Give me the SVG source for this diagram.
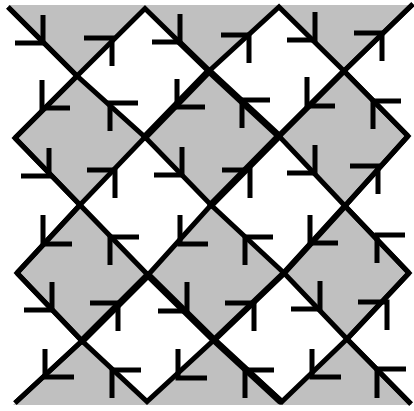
<svg xmlns="http://www.w3.org/2000/svg" width="414" height="411" viewBox="0 0 414 411">
<style>
.t{fill:#c0c0c0;stroke:none}
.ln{fill:none;stroke:#000;stroke-width:5;stroke-linejoin:miter;stroke-miterlimit:10}
.thk{fill:none;stroke:#000;stroke-width:7;stroke-linecap:round}
.med{fill:none;stroke:#000;stroke-width:6;stroke-linecap:round}
.ar{fill:none;stroke:#000;stroke-width:5;stroke-linejoin:miter}
</style>
<rect width="414" height="411" fill="#fff"/>
<g id="tiles">
<polygon id="t10" class="t" points="8,5 145,5 77,76"/>
<polygon id="t30" class="t" points="145,5 279,5 209,71"/>
<polygon id="t50" class="t" points="279,5 412,5 344,71"/>
<polygon id="t12" class="t" points="77,76 145,137 80,205 15,138"/>
<polygon id="t32" class="t" points="209,71 279,136 211,205 145,137"/>
<polygon id="t52" class="t" points="344,71 408,136 345,206 279,136"/>
<polygon id="t14" class="t" points="80,205 148,275 82,341 17,273"/>
<polygon id="t34" class="t" points="211,205 284,273 214,340 148,275"/>
<polygon id="t54" class="t" points="345,206 409,273 347,339 284,273"/>
<polygon id="t16" class="t" points="82,341 150,405 13,405"/>
<polygon id="t36" class="t" points="214,340 285,405 145,405"/>
<polygon id="t56" class="t" points="347,339 412,405 280,405"/>
</g>
<g id="connectors">
<polyline class="ln" points="8,7 77,76 145,8.5 209,71 279,7 344,71 413,4"/>
<polyline class="ln" points="15,138 77,76 145,137 209,71 279,136 344,71 408,136"/>
<polyline class="ln" points="15,138 80,205 145,137 211,205 279,136 345,206 408,136"/>
<polyline class="ln" points="17,273 80,205 148,275 211,205 284,273 345,206 409,273"/>
<polyline class="ln" points="17,273 82,341 148,275 214,340 284,273 347,339 409,273"/>
<polyline class="ln" points="15,403 82,341 147,401.5 214,340 282,401.5 347,339 411,404"/>
<polyline class="ln" points="8,7 77,76 15,138 80,205 17,273 82,341 15,403"/>
<polyline class="ln" points="413,4 344,71 408,136 345,206 409,273 347,339 411,404"/>
<g id="bold">
<line class="thk" x1="209" y1="71" x2="145" y2="137"/>
<line class="thk" x1="209" y1="71" x2="279" y2="136"/>
<line class="thk" x1="279" y1="136" x2="211" y2="205"/>
<line class="thk" x1="148" y1="275" x2="82" y2="341"/>
<line class="thk" x1="148" y1="275" x2="214" y2="340"/>
<line class="thk" x1="214" y1="340" x2="280" y2="401"/>
<line class="med" x1="177" y1="40" x2="209" y2="71"/>
<line class="med" x1="344" y1="71" x2="279" y2="136"/>
<line class="med" x1="345" y1="206" x2="284" y2="273"/>
<line class="med" x1="284" y1="273" x2="214" y2="340"/>
</g>
<g id="arrows">
<path class="ar" d="M15,43 L43,43 L43,15"/>
<path class="ar" d="M84,38 L112,38 L112,66"/>
<path class="ar" d="M152,42 L180,42 L180,14"/>
<path class="ar" d="M221,35 L249,35 L249,63"/>
<path class="ar" d="M287,40 L315,40 L315,12"/>
<path class="ar" d="M354,33 L382,33 L382,61"/>
<path class="ar" d="M70,108 L42,108 L42,80"/>
<path class="ar" d="M138,103 L110,103 L110,131"/>
<path class="ar" d="M205,107 L177,107 L177,79"/>
<path class="ar" d="M270,100 L242,100 L242,128"/>
<path class="ar" d="M335,106 L307,106 L307,77"/>
<path class="ar" d="M401,101 L373,101 L373,129"/>
<path class="ar" d="M21,176 L49,176 L49,148"/>
<path class="ar" d="M87,170 L115,170 L115,198"/>
<path class="ar" d="M154,175 L182,175 L182,147"/>
<path class="ar" d="M222,170 L250,170 L250,198"/>
<path class="ar" d="M287,173 L315,173 L315,145"/>
<path class="ar" d="M350,166 L378,166 L378,194"/>
<path class="ar" d="M72,244 L43,244 L43,215"/>
<path class="ar" d="M139,237 L110,237 L110,265"/>
<path class="ar" d="M208,244 L180,244 L180,215"/>
<path class="ar" d="M273,237 L245,237 L245,265"/>
<path class="ar" d="M338,243 L310,243 L310,215"/>
<path class="ar" d="M405,235 L377,235 L377,263"/>
<path class="ar" d="M24,310 L52,310 L52,282"/>
<path class="ar" d="M90,303 L118,303 L118,331"/>
<path class="ar" d="M158,311 L187,311 L187,282"/>
<path class="ar" d="M225,303 L254,303 L254,331"/>
<path class="ar" d="M291,309 L320,309 L320,281"/>
<path class="ar" d="M358,302 L387,302 L387,330"/>
<path class="ar" d="M74,377 L45,377 L45,349"/>
<path class="ar" d="M141,370 L112,370 L112,398"/>
<path class="ar" d="M207,378 L178,378 L178,349"/>
<path class="ar" d="M274,370 L245,370 L245,398"/>
<path class="ar" d="M341,377 L312,377 L312,349"/>
<path class="ar" d="M406,369 L377,369 L377,398"/>
</g>
</g>
</svg>
